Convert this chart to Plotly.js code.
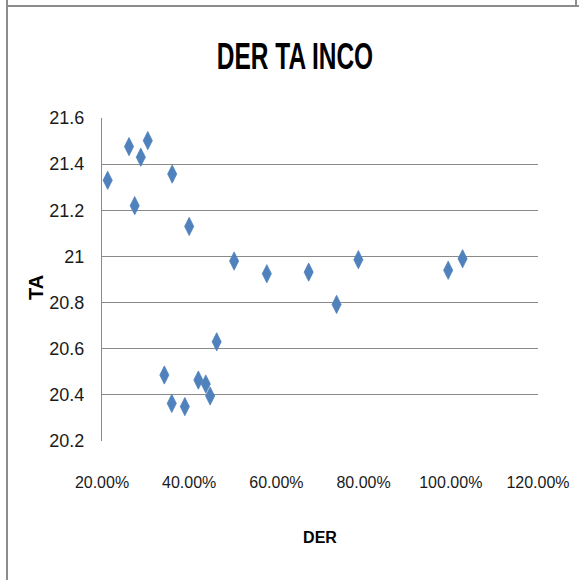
<!DOCTYPE html>
<html>
<head>
<meta charset="utf-8">
<script src="https://cdn.plot.ly/plotly-3.0.1.min.js"></script>
<style>
  html, body { margin: 0; padding: 0; background: #fff; }
  #wrap { position: relative; width: 579px; height: 580px; overflow: hidden; }
  #chart { position: absolute; left: 0; top: 0; width: 579px; height: 580px; }
  #chart text.gtitle { transform-box: fill-box; transform-origin: center; transform: scaleX(0.68); }
  .bl { position: absolute; background: #8c8c8c; }
</style>
</head>
<body>
<div id="wrap">
  <div id="chart"></div>
  <div class="bl" style="left:6px;top:0;width:2px;height:580px;"></div>
  <div class="bl" style="left:6px;top:5px;width:573px;height:2px;"></div>
  <div class="bl" style="left:575px;top:0;width:2px;height:6px;"></div>
</div>
<script>
// DER (debt to equity ratio) values
var der = [0.213, 0.262, 0.275, 0.289, 0.305, 0.361, 0.400, 0.503, 0.578, 0.674,
           0.738, 0.788, 0.994, 1.027, 0.463, 0.343, 0.360, 0.390, 0.421, 0.438, 0.448];
// TA values
var ta  = [21.33, 21.476, 21.22, 21.43, 21.502, 21.357, 21.13, 20.98, 20.925, 20.932,
           20.792, 20.986, 20.94, 20.99, 20.63, 20.486, 20.363, 20.349, 20.464, 20.447, 20.395];

var xTickVals = [0.2, 0.4, 0.6, 0.8, 1.0, 1.2];
var xTickText = ['20.00%', '40.00%', '60.00%', '80.00%', '100.00%', '120.00%'];
var yTickVals = [20.2, 20.4, 20.6, 20.8, 21.0, 21.2, 21.4, 21.6];
var yTickText = ['20.2', '20.4', '20.6', '20.8', '21', '21.2', '21.4', '21.6'];

var fam = '"Liberation Sans", Arial, sans-serif';

var trace = {
  x: der, y: ta, type: 'scatter', mode: 'markers',
  marker: { symbol: 'diamond-tall', size: 13, color: '#4F81BD',
            line: { width: 0.8, color: '#4F81BD' } },
  hoverinfo: 'x+y'
};

var layout = {
  width: 579, height: 580,
  margin: { l: 102, r: 41, t: 118, b: 139 },
  paper_bgcolor: '#ffffff', plot_bgcolor: '#ffffff',
  showlegend: false,
  title: { text: '<b>DER TA INCO</b>', x: 295/579, xref: 'container', xanchor: 'center',
           y: 1 - 56/580, yref: 'container', yanchor: 'middle',
           font: { family: fam, size: 36, color: '#000000' } },
  xaxis: {
    range: [0.2, 1.2], tickvals: xTickVals, ticktext: xTickText,
    showgrid: false, zeroline: false, showline: false,
    ticks: 'outside', ticklen: 27, tickcolor: 'rgba(0,0,0,0)',
    tickfont: { family: fam, size: 16, color: '#1a1a1a' },
    title: { text: '<b>DER</b>', standoff: 41, font: { family: fam, size: 16, color: '#000000' } }
  },
  yaxis: {
    range: [20.2, 21.6], tickvals: yTickVals, ticktext: yTickText,
    showgrid: true, gridcolor: '#8a8a8a', gridwidth: 1,
    zeroline: false, showline: true, linecolor: '#8a8a8a', linewidth: 1,
    ticks: 'outside', ticklen: 13, tickcolor: 'rgba(0,0,0,0)',
    tickfont: { family: fam, size: 18, color: '#1a1a1a' }
  },
  annotations: [{
    text: '<b>TA</b>', textangle: -90, showarrow: false,
    xref: 'paper', yref: 'paper', x: (36 - 102) / 436, y: (441 - 288) / 323,
    xanchor: 'center', yanchor: 'middle',
    font: { family: fam, size: 20, color: '#000000' }
  }]
};

Plotly.newPlot('chart', [trace], layout, { displayModeBar: false, staticPlot: true });
</script>
</body>
</html>
